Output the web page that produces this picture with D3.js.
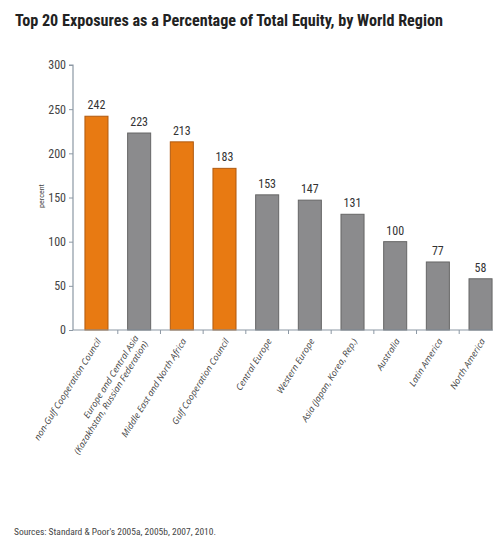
<!DOCTYPE html>
<html><head><meta charset="utf-8">
<script src="https://cdn.jsdelivr.net/npm/d3@7"></script>
<style>body{margin:0;background:#fff}svg{display:block}</style>
</head><body>
<svg id="c" width="493" height="539"></svg>
<script>
const categories = ["non-Gulf Cooperation Council","Europe and Central Asia|(Kazakhstan, Russian Federation)","Middle East and North Africa","Gulf Cooperation Council","Central Europe","Western Europe","Asia (Japan, Korea, Rep.)","Australia","Latin America","North America"];
const values = [242,223,213,183,153,147,131,100,77,58];
const highlight = [true,false,true,true,false,false,false,false,false,false];
const yTicks = [0,50,100,150,200,250,300];
const titleText = "Top 20 Exposures as a Percentage of Total Equity, by World Region";
const yLabel = "percent";
const sourceText = "Sources: Standard & Poor's 2005a, 2005b, 2007, 2010.";

const svg = d3.select("#c");
const narrow = "'Liberation Sans Narrow','Roboto Condensed','DejaVu Sans Condensed',sans-serif";
const x0 = 73, y0 = 330, yTop = 65;
const x = d3.scaleBand().domain(categories).range([x0, 504]).paddingInner(0.46).paddingOuter(0.28);
const y = d3.scaleLinear().domain([0,300]).range([y0, yTop]);

svg.append("text").attr("x",15).attr("y",26).attr("font-family",narrow).attr("font-weight","bold")
  .attr("font-size",17).attr("fill","#222").attr("textLength",428).attr("lengthAdjust","spacingAndGlyphs").text(titleText);

// bars
svg.selectAll("rect.bar").data(categories).enter().append("rect")
  .attr("x",d=>x(d)).attr("width",x.bandwidth())
  .attr("y",(d,i)=>y(values[i])).attr("height",(d,i)=>y0-y(values[i]))
  .attr("fill",(d,i)=>highlight[i]?"#e87a12":"#8b8b8d")
  .attr("stroke",(d,i)=>highlight[i]?"#b05a10":"#666")
  .attr("stroke-width",1);

// value labels
svg.selectAll("text.val").data(categories).enter().append("text")
  .attr("x",d=>x(d)+x.bandwidth()/2).attr("y",(d,i)=>y(values[i])-7)
  .attr("text-anchor","middle").attr("font-family",narrow).attr("font-size",12).attr("fill","#333")
  .text((d,i)=>values[i]);

// y axis
const yAxis = d3.axisLeft(y).tickValues(yTicks).tickSize(4).tickPadding(3);
const gy = svg.append("g").attr("transform",`translate(${x0},0)`).call(yAxis);
gy.select(".domain").attr("stroke","#8c98a4").attr("stroke-width",1.2).attr("d",`M-4,${yTop}H0V${y0}`);
gy.selectAll(".tick line").attr("stroke","#8c98a4");
gy.selectAll(".tick text").attr("font-family",narrow).attr("font-size",12).attr("fill","#444");

// x axis baseline
svg.append("line").attr("x1",x0).attr("x2",493).attr("y1",y0).attr("y2",y0).attr("stroke","#8c98a4").attr("stroke-width",1.2);
// ticks between bars
const step = x.step();
svg.selectAll("line.xt").data(categories.slice(1)).enter().append("line")
  .attr("x1",d=>x(d)-(step-x.bandwidth())/2).attr("x2",d=>x(d)-(step-x.bandwidth())/2)
  .attr("y1",y0).attr("y2",y0+4).attr("stroke","#8c98a4");

// category labels
const gl = svg.selectAll("g.cl").data(categories).enter().append("g")
  .attr("transform",d=>`translate(${x(d)+x.bandwidth()/2+5},${y0+11}) rotate(-58)`);
gl.each(function(d){
  const lines = d.split("|");
  const g = d3.select(this);
  lines.forEach((l,k)=>{
    g.append("text").attr("x",0).attr("y",(k-(lines.length-1))*11+ (lines.length>1?5:0))
      .attr("text-anchor","end").attr("font-family","'Open Sans',sans-serif").attr("font-style","italic")
      .attr("font-size",9).attr("fill","#444").text(l);
  });
});

// y label
svg.append("text").attr("transform","translate(44,196) rotate(-90)").attr("text-anchor","middle")
  .attr("font-family",narrow).attr("font-size",8).attr("fill","#444").text(yLabel);

svg.append("text").attr("x",14).attr("y",535).attr("font-family",narrow).attr("font-size",9.5)
  .attr("fill","#444").attr("textLength",202).attr("lengthAdjust","spacingAndGlyphs").text(sourceText);
</script>
</body></html>
